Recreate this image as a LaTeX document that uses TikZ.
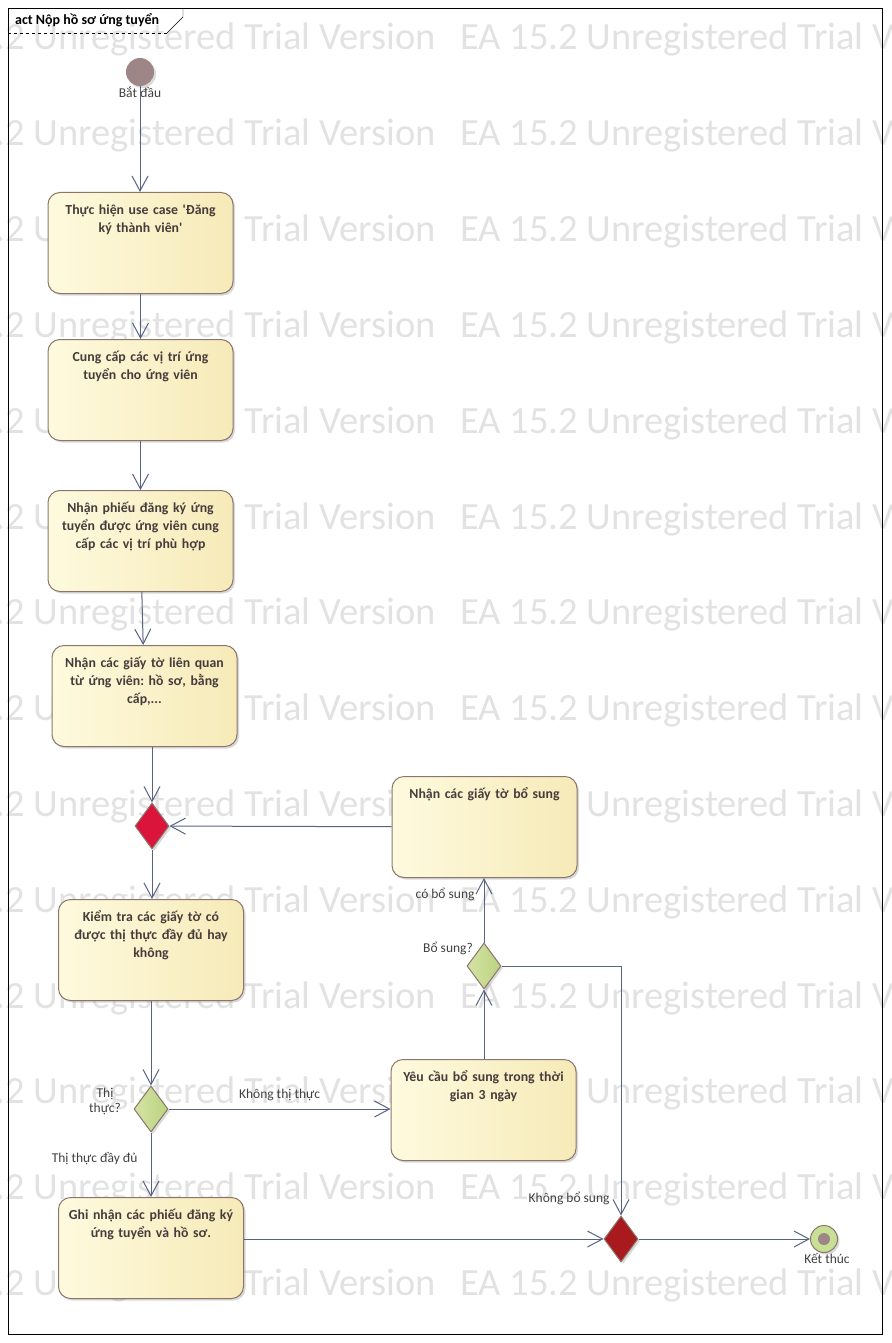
\documentclass[tikz,border=0pt]{standalone}
\usepackage{fontspec}
\setmainfont{Carlito}
\frenchspacing
\usetikzlibrary{arrows.meta,shapes.geometric,shadows}

\definecolor{edgecol}{RGB}{88,98,130}
\definecolor{actborder}{RGB}{140,118,108}
\definecolor{actleft}{RGB}{254,250,222}
\definecolor{actright}{RGB}{246,234,184}
\definecolor{acttext}{RGB}{70,60,60}
\definecolor{labtext}{RGB}{64,64,64}
\definecolor{startcol}{RGB}{158,134,134}
\definecolor{mergered}{RGB}{218,20,58}
\definecolor{mergedark}{RGB}{168,26,30}
\definecolor{decleft}{RGB}{212,228,164}
\definecolor{decright}{RGB}{186,210,128}
\definecolor{endcol}{RGB}{200,224,150}
\definecolor{wmark}{RGB}{226,226,226}

\begin{document}
\begin{tikzpicture}[x=1pt,y=-1pt,
  act/.style={draw=actborder,line width=1pt,rounded corners=12pt,left color=actleft,right color=actright,
    text=acttext,font=\bfseries\fontsize{13.8}{18}\selectfont,align=center,
    text width=169pt,inner xsep=8pt,inner ysep=9pt,text height=13pt,text depth=70pt,
    anchor=north,drop shadow={shadow xshift=2pt,shadow yshift=-2pt,opacity=0.3}},
  merge/.style={diamond,draw=actborder,line width=1pt,minimum width=34pt,minimum height=46pt,inner sep=0pt,
    drop shadow={shadow xshift=2pt,shadow yshift=-2pt,opacity=0.3}},
  decide/.style={merge,left color=decleft,right color=decright},
  flow/.style={draw=edgecol,line width=1pt,-{Straight Barb[length=15pt,width=16pt]}},
  lab/.style={text=labtext,font=\fontsize{13.5}{15}\selectfont,inner sep=1pt},
  wm/.style={text=wmark,font=\fontsize{38.5}{38.5}\selectfont,anchor=base west,inner sep=0pt}]

\useasboundingbox (0,0) rectangle (891,1343);

%watermark:
\begin{scope}
\clip (0,0) rectangle (891,1343);
\foreach \r in {0,...,13}
  \foreach \c/\xx in {0/-93,1/460}
    \node[wm] (wm\r\c) at (\xx,50+95.8*\r) {EA 15.2 Unregistered Trial Version};
\end{scope}

%frame:
\draw[black] (8,8) rectangle (882,1334);
\draw[black] (183,8) -- (183,17) -- (167,33);
\draw[black,dashed] (8,33) -- (167,33);
\node[anchor=base west,font=\bfseries\fontsize{14}{16}\selectfont,inner sep=0pt] (title) at (15,25) {act Nộp hồ sơ ứng tuyển};

%nodes:
\node[circle,fill=startcol,minimum size=28pt,inner sep=0pt,
  drop shadow={shadow xshift=2pt,shadow yshift=-2pt,opacity=0.3},
  label={[lab,yshift=1pt]below:Bắt đầu}] (start) at (140,72) {};

\node[act] (a1) at (140.5,192) {Thực hiện use case \textquotesingle Đăng\\ký thành viên\textquotesingle};
\node[act] (a2) at (140.5,339) {Cung cấp các vị trí ứng\\tuyển cho ứng viên};
\node[act] (a3) at (140.5,490) {Nhận phiếu đăng ký ứng\\tuyển được ứng viên cung\\cấp các vị trí phù hợp};
\node[act] (a4) at (144.5,645) {Nhận các giấy tờ liên quan\\từ ứng viên: hồ sơ, bằng\\cấp,...};
\node[merge,fill=mergered] (m1) at (152,826) {};
\node[act] (a5) at (151,899) {Kiểm tra các giấy tờ có\\được thị thực đầy đủ hay\\không};
\node[decide] (d1) at (151,1109) {};
\node[act] (a6) at (483.5,1059) {Yêu cầu bổ sung trong thời\\gian 3 ngày};
\node[act] (a7) at (151,1197) {Ghi nhận các phiếu đăng ký\\ứng tuyển và hồ sơ.};
\node[decide] (d2) at (484,966) {};
\node[act] (a8) at (484.5,776) {Nhận các giấy tờ bổ sung};
\node[merge,fill=mergedark] (m2) at (621,1239) {};
\node[circle,draw=actborder,line width=1pt,fill=endcol,minimum size=27pt,inner sep=0pt,
  drop shadow={shadow xshift=2pt,shadow yshift=-2pt,opacity=0.3},
  label={[lab,yshift=1pt,xshift=3pt]below:Kết thúc}] (end) at (824,1239) {};
\node[circle,fill=startcol,minimum size=12pt,inner sep=0pt] (enddot) at (end) {};

\node[lab,align=center,font=\fontsize{13.5}{15}\selectfont] (d1lab) at (105,1101) {Thị\\thực?};
\node[lab,anchor=east] (d2lab) at (474,948) {Bổ sung?};

%flows:
\draw[flow] (start) -- (start |- a1.north);
\draw[flow] (a1) -- (a2);
\draw[flow] (a2) -- (a3);
\draw[flow] (a3) -- (a4);
\draw[flow] (m1 |- a4.south) -- (m1);
\draw[flow] (a8) -- (m1);
\draw[flow] (m1) -- (m1 |- a5.north);
\draw[flow] (a5.south -| d1) -- (d1);
\draw[flow] (d1) -- (d1 -| a6.west) node[lab,pos=0.5,above=7pt] {Không thị thực};
\draw[flow] (d1) -- (d1 |- a7.north) node[lab,pos=0.4,left=12pt] {Thị thực đầy đủ};
\draw[flow] (a6.north -| d2) -- (d2);
\draw[flow] (d2) -- (d2 |- a8.south) node[lab,pos=0.75,left=8pt] {có bổ sung};
\draw[flow] (d2) -| (m2) node[lab,pos=0.965,left=10pt] {Không bổ sung};
\draw[flow] (m2 -| a7.east) -- (m2);
\draw[flow] (m2) -- (end);
\end{tikzpicture}
\end{document}
